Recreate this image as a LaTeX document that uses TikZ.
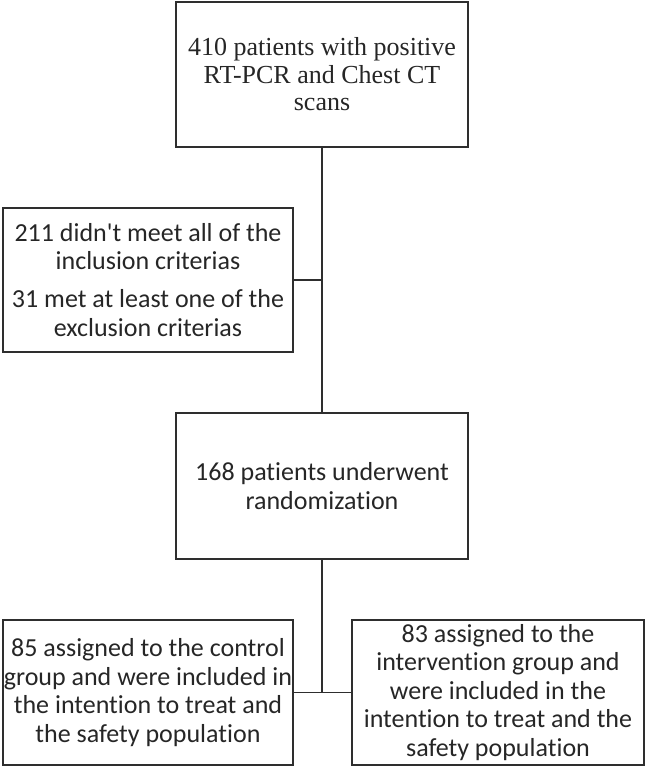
\documentclass[tikz,border=0pt]{standalone}
\usepackage{fontspec}
\setmainfont{Carlito}[Ligatures=NoCommon]
\newfontfamily\timesfont{Liberation Serif}
\usetikzlibrary{positioning}

\tikzset{
  box/.style={draw=black!82, line width=2.7pt, text=black!85, align=center,
    inner sep=0pt, font=\fontsize{26}{28.5}\selectfont},
  link/.style={draw=black!82, line width=1.5pt}
}

\begin{document}
\begin{tikzpicture}[x=1pt,y=-1pt]
                            % Frame
                            \useasboundingbox (0,0) rectangle (645,767);

                            % Boxes
                            \node[box, minimum width=292pt, minimum height=145pt,
                              font=\timesfont\fontsize{26}{27.5}\selectfont] (scan) at (322,74.5)
                              {410 patients with positive\\RT-PCR and Chest CT\\scans};
                            \node[box, minimum width=290pt, minimum height=144pt] (excl) at (148,280)
                              {211 didn\textquotesingle t meet all of the\\inclusion criterias\\[9.5pt]31 met at least one of the\\exclusion criterias};
                            \node[box, minimum width=292pt, minimum height=146pt] (rand) at (322,486)
                              {168 patients underwent\\randomization};
                            \node[box, minimum width=290pt, minimum height=145pt] (ctrl) at (148,692.5)
                              {85 assigned to the control\\group and were included in\\the intention to treat and\\the safety population};
                            \node[box, minimum width=292pt, minimum height=145pt] (intv) at (498,692.5)
                              {83 assigned to the\\intervention group and\\were included in the\\intention to treat and the\\safety population};

                            % Connectors
                            \draw[link] (scan.south) -- (rand.north);
                            \draw[link] (excl.east) -- (excl.east -| scan.south);
                            \draw[link] (rand.south) -- (ctrl.east -| rand.south);
                            \draw[link] (ctrl.east) -- (intv.west);
                      \end{tikzpicture}
\end{document}
